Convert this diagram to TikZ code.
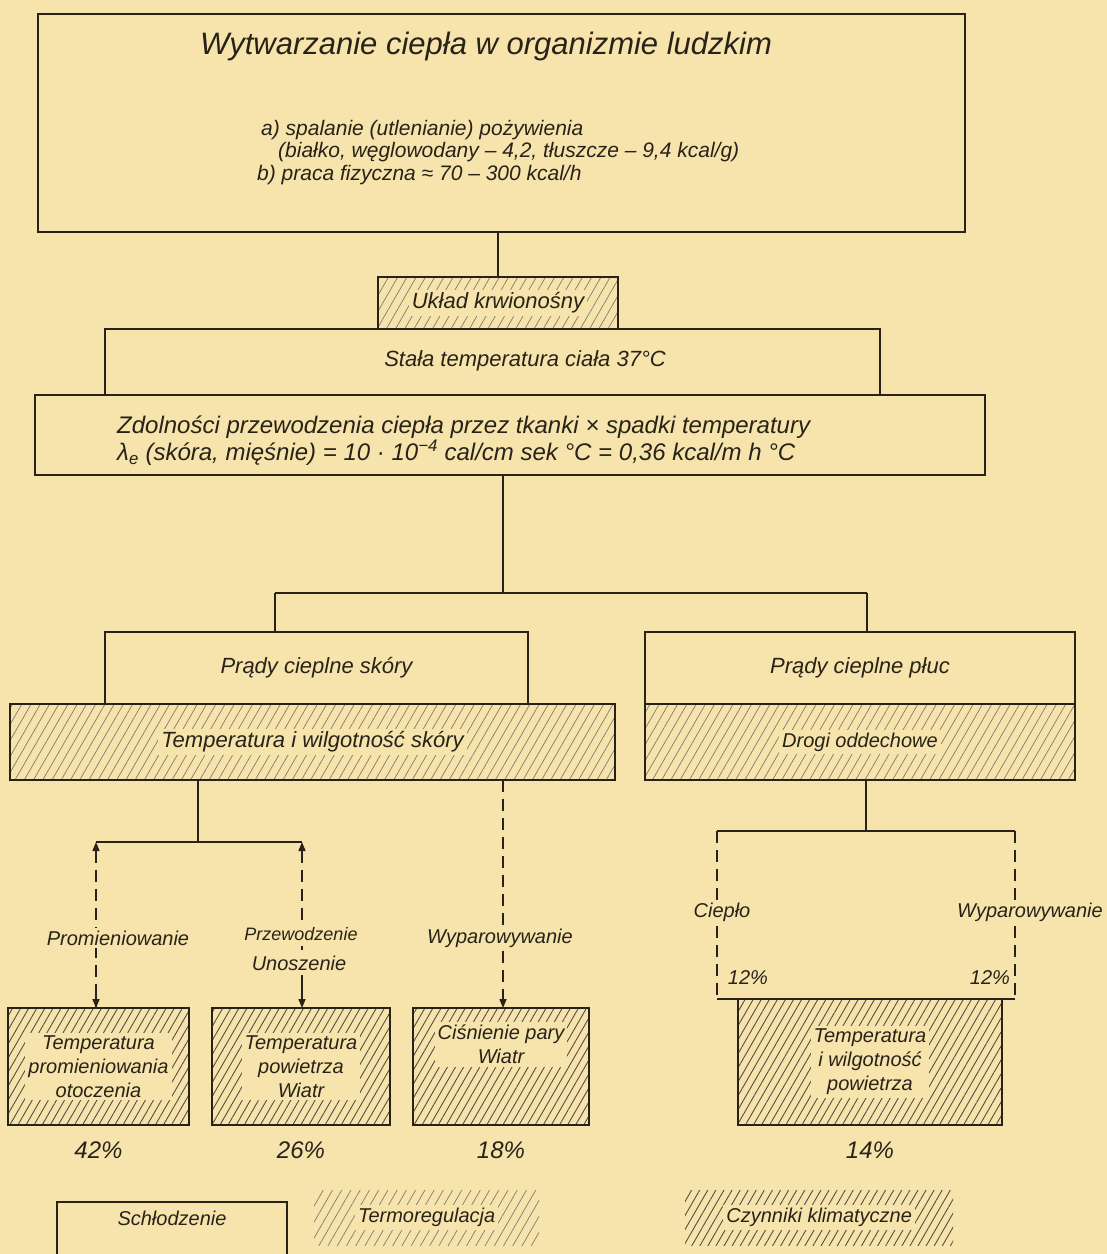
\documentclass[tikz,border=0pt]{standalone}
\usepackage{fontspec}
\setmainfont{Liberation Sans}
\usetikzlibrary{patterns.meta,arrows.meta}
\definecolor{paper}{RGB}{246,228,172}
\definecolor{ink}{RGB}{40,34,24}
\tikzset{
  box/.style={draw=ink, line width=1.6pt, anchor=north west, inner sep=0pt, outer sep=0pt},
  hatchA/.style={pattern={Lines[angle=60,distance=8pt,line width=0.7pt]}, pattern color=ink!60},
  hatchB/.style={pattern={Lines[angle=60,distance=7pt,line width=0.9pt]}, pattern color=ink!80},
  lbl/.style={text=ink, inner sep=2pt},
  clear/.style={fill=paper, inner sep=3pt},
  fA/.style={font=\fontsize{31}{37}\selectfont\itshape},
  fB/.style={font=\fontsize{22}{26}\selectfont\itshape},
  fZ/.style={font=\fontsize{24}{28}\selectfont\itshape},
  fC/.style={font=\fontsize{20}{24}\selectfont\itshape},
  fD/.style={font=\fontsize{18}{22}\selectfont\itshape},
  fI/.style={font=\fontsize{21}{25}\selectfont\itshape},
  fE/.style={font=\fontsize{24}{28}\selectfont\itshape},
  conn/.style={draw=ink, line width=1.4pt},
  dconn/.style={draw=ink, line width=1.4pt, dash pattern=on 12pt off 7pt},
  tipe/.style={-{Triangle[length=9pt,width=7pt]}},
  tips/.style={{Triangle[length=9pt,width=7pt]}-},
}
\begin{document}
\begin{tikzpicture}[x=1pt,y=-1pt]
\fill[paper] (0,0) rectangle (1107,1254);
\useasboundingbox (0,0) rectangle (1107,1254);

% top box
\node[box, minimum width=927pt, minimum height=218pt] (top) at (38,14) {};
\node[lbl, fA] (title) at (486,46) {Wytwarzanie ciepła w organizmie ludzkim};
\node[lbl, fI, anchor=west] (ia) at (259,130) {a) spalanie (utlenianie) pożywienia};
\node[lbl, fI, anchor=west] (ip) at (276,152) {(białko, węglowodany – 4,2, tłuszcze – 9,4 kcal/g)};
\node[lbl, fI, anchor=west] (ib) at (255,175) {b) praca fizyczna ≈ 70 – 300 kcal/h};

% uklad krwionosny
\node[box, hatchA, minimum width=240pt, minimum height=52pt] (uk) at (378,277) {};
\node[lbl, fB, clear] at (uk.center) {Układ krwionośny};

% stala temperatura
\node[box, minimum width=775pt, minimum height=66pt] (st) at (105,329) {};
\node[lbl, fB] at (525,361) {Stała temperatura ciała 37°C};

% zdolnosci
\node[box, minimum width=950pt, minimum height=80pt] (zd) at (35,395) {};
\node[lbl, fZ, anchor=west] (z1) at (115,427) {Zdolności przewodzenia ciepła przez tkanki × spadki temperatury};
\node[lbl, fZ, anchor=west] (z2) at (115,453) {λ\textsubscript{e} (skóra, mięśnie) = 10 · 10\textsuperscript{−4} cal/cm sek °C = 0,36 kcal/m h °C};

% skin and lung boxes
\node[box, minimum width=423pt, minimum height=72pt] (skinW) at (105,632) {};
\node[lbl, fB] at (skinW.center) {Prądy cieplne skóry};
\node[box, hatchA, minimum width=605pt, minimum height=76pt] (skinH) at (10,704) {};
\node[lbl, fB, clear] at (skinH.center) {Temperatura i wilgotność skóry};
\node[box, minimum width=430pt, minimum height=72pt] (lungW) at (645,632) {};
\node[lbl, fB] at (lungW.center) {Prądy cieplne płuc};
\node[box, hatchA, minimum width=430pt, minimum height=76pt] (lungH) at (645,704) {};
\node[lbl, fC, clear] at (lungH.center) {Drogi oddechowe};

% connectors upper
\draw[conn] (uk.north |- top.south) -- (uk.north);
\coordinate (j) at (503,593);
\coordinate (jl) at (275,593);
\coordinate (jr) at (867,593);
\draw[conn] (zd.south -| j) -- (j);
\draw[conn] (jl) -- (jr);
\draw[conn] (jl) -- (jl |- skinW.north);
\draw[conn] (jr) -- (jr |- lungW.north);

% bottom boxes
\node[box, hatchB, minimum width=181pt, minimum height=117pt] (b1) at (8,1008) {};
\node[lbl, fC, clear, align=center] at (b1.center) {Temperatura\\promieniowania\\otoczenia};
\node[box, hatchB, minimum width=178pt, minimum height=117pt] (b2) at (212,1008) {};
\node[lbl, fC, clear, align=center] at (b2.center) {Temperatura\\powietrza\\Wiatr};
\node[box, hatchB, minimum width=176pt, minimum height=117pt] (b3) at (413,1008) {};
\node[lbl, fC, clear, align=center] at ([yshift=22pt]b3.center) {Ciśnienie pary\\Wiatr};
\node[box, hatchB, minimum width=264pt, minimum height=126pt] (b4) at (738,999) {};
\node[lbl, fC, clear, align=center] at (b4.center) {Temperatura\\i wilgotność\\powietrza};

\node[lbl, fE] (p1) at (b1.south |- 0,1150) {42\%};
\node[lbl, fE] (p2) at (b2.south |- 0,1150) {26\%};
\node[lbl, fE] (p3) at (b3.south |- 0,1150) {18\%};
\node[lbl, fE] (p4) at (b4.south |- 0,1150) {14\%};

% skin branch
\coordinate (sj) at (198,842);
\coordinate (pl) at (96,842);
\coordinate (pr) at (302,842);
\draw[conn] (sj |- skinH.south) -- (sj);
\draw[conn] (pl) -- (pr);
\draw[dconn, tips] (pl) -- (pl |- 0,1008);
\draw[dconn, tips] (pr) -- (pr |- 0,950);
\draw[conn, tipe] (pr |- 0,975) -- (pr |- b2.north);
\coordinate (wj) at (503,842);
\draw[dconn, tipe] (wj |- skinH.south) -- (wj |- b3.north);
\node[lbl, fC, clear] (prom) at (118,938) {Promieniowanie};
\node[lbl, fD, clear] (przew) at (301,934) {Przewodzenie};
\node[lbl, fC, clear] (unos) at (299,963) {Unoszenie};
\node[lbl, fC, clear] (wyp) at (500,938) {Wyparowywanie};
\draw[ink, tipe, line width=1.4pt] (pl |- 0,990) -- (pl |- b1.north);

% lung branch
\coordinate (lj) at (866,831);
\coordinate (ll) at (717,831);
\coordinate (lr) at (1015,831);
\draw[conn] (lj |- lungH.south) -- (lj);
\draw[conn] (ll) -- (lr);
\draw[dconn] (ll) -- (ll |- b4.north);
\draw[dconn] (lr) -- (lr |- b4.north);
\draw[conn] (ll |- b4.north) -- (b4.north west);
\draw[conn] (lr |- b4.north) -- (b4.north east);
\node[lbl, fC, clear] (ciep) at (722,912) {Ciepło};
\node[lbl, fC, clear] (wyp2) at (1030,912) {Wyparowywanie};
\node[lbl, fC] (pc1) at (748,978) {12\%};
\node[lbl, fC] (pc2) at (990,978) {12\%};

% legend
\draw[ink, line width=1.6pt] (57,1254) -- (57,1202) -- (287,1202) -- (287,1254);
\node[lbl, fC] (l1) at (172,1218) {Schłodzenie};
\node[anchor=north west, hatchA, minimum width=225pt, minimum height=55pt, inner sep=0pt] (l2) at (314,1190) {};
\node[lbl, fC, clear] at (l2.center) {Termoregulacja};
\node[anchor=north west, hatchB, minimum width=268pt, minimum height=55pt, inner sep=0pt] (l3) at (685,1190) {};
\node[lbl, fC, clear] at (l3.center) {Czynniki klimatyczne};
\end{tikzpicture}
\end{document}
